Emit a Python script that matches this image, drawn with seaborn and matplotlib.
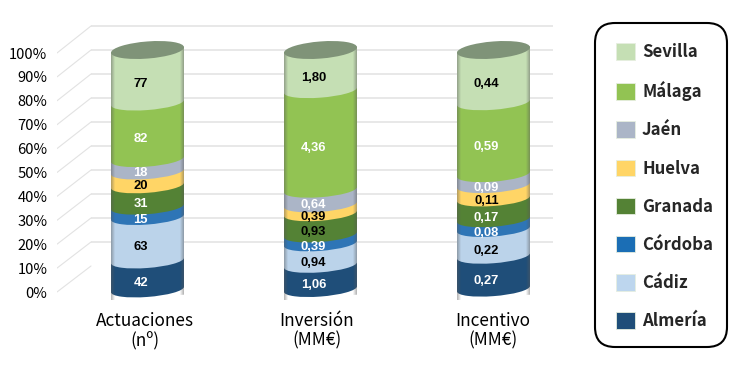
import numpy as np
import pandas as pd
import matplotlib
matplotlib.use("Agg")
import matplotlib.pyplot as plt
from matplotlib.patches import Ellipse, Patch, FancyBboxPatch
from matplotlib.transforms import Affine2D, IdentityTransform
import seaborn as sns

W, H = 743, 372
categories = ["Actuaciones\n(nº)", "Inversión\n(MM€)", "Incentivo\n(MM€)"]
provinces = ["Almería", "Cádiz", "Córdoba", "Granada", "Huelva", "Jaén", "Málaga", "Sevilla"]
almeria = [42, 1.06, 0.27]
cadiz = [63, 0.94, 0.22]
cordoba = [15, 0.39, 0.08]
granada = [31, 0.93, 0.17]
huelva = [20, 0.39, 0.11]
jaen = [18, 0.64, 0.09]
malaga = [82, 4.36, 0.59]
sevilla = [77, 1.80, 0.44]
series = [almeria, cadiz, cordoba, granada, huelva, jaen, malaga, sevilla]
colors = ["#1F4E79", "#BBD3EA", "#2E75B6", "#548235", "#FFD566", "#ABB5C7", "#92C353", "#C5DFB4"]
legend_colors = ["#1F4E79", "#BDD6EE", "#1B6EB5", "#548235", "#FFD566", "#ABB5C7", "#92C353", "#C5DFB4"]
label_colors = [["white", "white", "white"], ["black", "black", "black"], ["white", "white", "white"],
                ["white", "black", "white"], ["black", "black", "black"], ["white", "white", "white"],
                ["white", "white", "white"], ["black", "black", "black"]]

sns.set_theme(style="white")
UI = ["Noto Sans CJK JP", "DejaVu Sans"]
plt.rcParams["font.family"] = UI

fig = plt.figure(figsize=(W / 100, H / 100), dpi=100)
L, R, T, B = 57, 560, 10, 300
ax = fig.add_axes([L / W, 1 - B / H, (R - L) / W, (B - T) / H])
ax.patch.set_alpha(0)
for s in ax.spines.values():
    s.set_visible(False)

cx = lambda px: (px - 147.5) / 173
vy = lambda py: (290 - py) / 2.4
XLIM = (cx(L), cx(R))
YLIM = (vy(B), vy(T))

values = np.array(series, dtype=float)
pct = values / values.sum(axis=0) * 100
bottoms = np.vstack([np.zeros(3), np.cumsum(pct, axis=0)[:-1]])
BW = 73 / 173

# perspective wall
grid = "#E2E2E2"
for v in range(0, 101, 10):
    back, front = vy(266 - v * 2.4), vy(292 - v * 2.39)
    if v > 0:
        ax.plot([cx(91), cx(553)], [back, back], color=grid, lw=1.1, zorder=1, solid_capstyle="butt")
    ax.plot([cx(57), cx(91)], [front, back], color=grid, lw=0.8, zorder=1)

ax.set_xlim(*XLIM)
ax.set_ylim(*YLIM)

# shear that tilts each cylinder's rings, in pixels
def shear(c):
    px = ax.transData.transform((c, 0))[0]
    return Affine2D().translate(-px, 0).skew(0, np.arctan(0.075)).translate(px, 0)

ERY = 3.1
z = 3
for i, name in enumerate(provinces):
    df = pd.DataFrame({"cat": categories, "pct": pct[i]})
    before = len(ax.patches)
    sns.barplot(data=df, x="cat", y="pct", bottom=bottoms[i], color=colors[i], saturation=1,
                width=BW, ax=ax, zorder=z, linewidth=0, order=categories)
    for c, bar in enumerate(ax.patches[before:]):
        bar.set_transform(ax.transData + shear(c))
        bar.set_zorder(z)
        e = Ellipse((c, bottoms[i][c]), BW, 2 * ERY, facecolor=colors[i], edgecolor="none", zorder=z,
                    transform=ax.transData + shear(c))
        ax.add_artist(e)
    z += 1

ax.set_xlim(*XLIM)
ax.set_ylim(*YLIM)

# rounded side shading and top cap
grad = np.zeros((1, 73, 4))
xs = np.linspace(0, 1, 73)
grad[0, :, 3] = np.clip(0.42 * (1 - np.minimum(xs, 1 - xs) / 0.05), 0, 0.42)
grad[0, :, :3] = 0.35
for c in range(3):
    im = ax.imshow(grad, extent=(c - BW / 2, c + BW / 2, -ERY, 100), aspect="auto", zorder=z,
                   transform=ax.transData + shear(c), interpolation="bilinear")
    ax.add_artist(Ellipse((c, 100), BW, 2 * ERY * 1.15, facecolor="#7F9378", edgecolor="none", zorder=z + 1,
                          transform=ax.transData + shear(c)))
ax.set_xlim(*XLIM)
ax.set_ylim(*YLIM)
ax.set_aspect("auto")

# value labels
for i in range(len(provinces)):
    for c in range(3):
        v = series[i][c]
        txt = f"{v:d}" if isinstance(v, int) else f"{v:.2f}".replace(".", ",")
        ax.text(c - 0.04, bottoms[i][c] + pct[i][c] / 2 - ERY, txt, ha="center", va="center",
                color=label_colors[i][c], fontsize=9.4, fontweight="bold", family="Liberation Sans", zorder=z + 2)

ticks = [(292 - v * 2.39) for v in range(0, 101, 10)]
ax.set_yticks([vy(p) for p in ticks])
ax.set_yticklabels([f"{v}%" for v in range(0, 101, 10)], fontsize=10.6, color="black")
ax.set_xticks(range(3))
ax.set_xticklabels(categories, fontsize=12.4, color="black", linespacing=1.12)
ax.tick_params(axis="y", length=0, pad=7)
ax.tick_params(axis="x", length=0, pad=8.5)
for lab, dx in zip(ax.get_xticklabels(), (-3, -4, -1)):
    lab.set_transform(lab.get_transform() + Affine2D().translate(dx, 0))
ax.set_xlabel("")
ax.set_ylabel("")
ax.grid(False)

box = FancyBboxPatch((595, H - 347), 132, 324, boxstyle="round,pad=0,rounding_size=20",
                     facecolor="white", edgecolor="black", linewidth=1.5, transform=IdentityTransform(),
                     zorder=0)
fig.patches.append(box)
box.set_figure(fig)

handles = [Patch(facecolor=legend_colors[i], edgecolor="#E6EEE0", linewidth=0.6, label=provinces[i])
           for i in reversed(range(len(provinces)))]
leg = fig.legend(handles=handles, loc="upper left", bbox_to_anchor=(616 / W, 1 - 43 / H), borderaxespad=0,
                 frameon=False, handlelength=1.13, handleheight=1.13, handletextpad=0.42, labelspacing=1.2,
                 borderpad=0, prop={"family": UI, "size": 12.1, "weight": "bold"})

fig.savefig("out.png", dpi=100, facecolor="white")
